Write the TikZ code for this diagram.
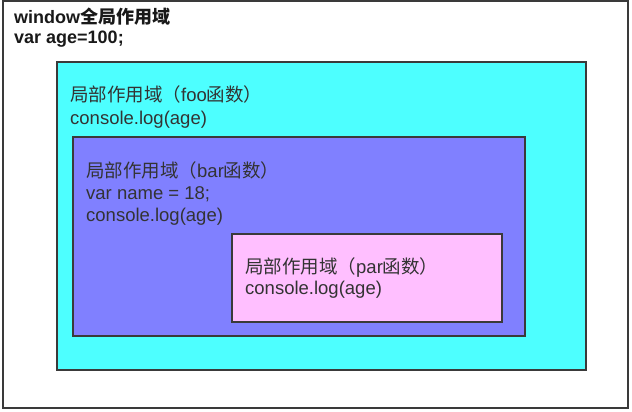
\documentclass[tikz,border=0pt]{standalone}
\usepackage{fontspec}
\setmainfont{Liberation Sans}
\newfontfamily\cjk{Noto Sans CJK SC}
\definecolor{txt}{HTML}{333333}
\definecolor{edge}{HTML}{3A3A3A}
\definecolor{cyanbox}{HTML}{4DFFFF}
\definecolor{bluebox}{HTML}{8080FF}
\definecolor{pinkbox}{HTML}{FFBFFF}
\tikzset{
  scopebox/.style={draw=edge, line width=1.2pt},
  line/.style={anchor=base west, inner sep=0pt, text=txt, font=\fontsize{18.5}{21}\selectfont},
  boldline/.style={line, font=\fontsize{18}{21}\selectfont\bfseries, text=black!90},
}
\begin{document}
\begin{tikzpicture}[x=1pt, y=-1pt]
\useasboundingbox (0,0) rectangle (632,412);
\fill[white] (0,0) rectangle (632,412);
\draw[scopebox, line width=1.5pt] (3,1) rectangle (628,408);
\path[scopebox, fill=cyanbox] (57,62) rectangle (586,370);
\path[scopebox, fill=bluebox] (73,137) rectangle (525,336);
\path[scopebox, fill=pinkbox] (232,234) rectangle (502,322);
\node[boldline] (w1) at (14,23.5) {window{\cjk\bfseries 全局作用域}};
\node[boldline] (w2) at (14,44) {var age=100;};
\node[line] (f1) at (70,102) {{\cjk 局部作用域（}foo{\cjk 函数）}};
\node[line] (f2) at (70,124) {console.log(age)};
\node[line] (b1) at (86,177.5) {{\cjk 局部作用域（}bar{\cjk 函数）}};
\node[line] (b2) at (86,199.5) {var name = 18;};
\node[line] (b3) at (86,221) {console.log(age)};
\node[line] (p1) at (245,273.5) {{\cjk 局部作用域（}par{\cjk 函数）}};
\node[line] (p2) at (245,294.5) {console.log(age)};
\end{tikzpicture}
\end{document}
